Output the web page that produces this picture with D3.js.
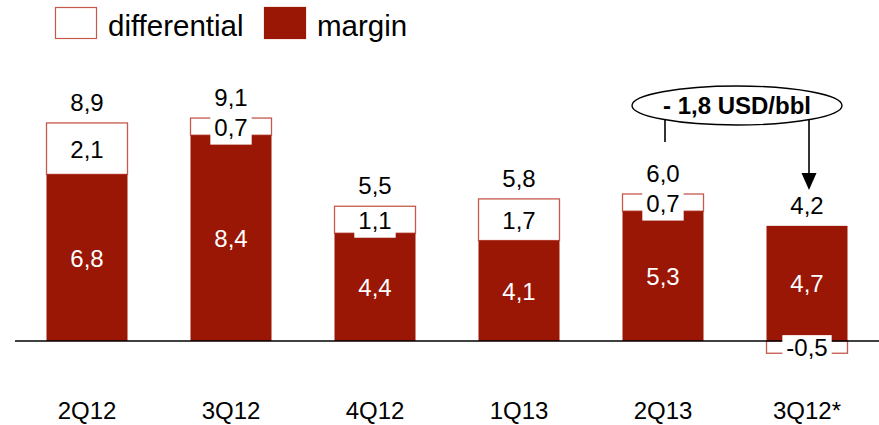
<!DOCTYPE html>
<html>
<head>
<meta charset="utf-8">
<script src="https://cdn.jsdelivr.net/npm/d3@7"></script>
<style>
  body { margin: 0; background: #fff; }
  svg { display: block; font-family: "Liberation Sans", Arial, sans-serif; }
</style>
</head>
<body>
<svg id="chart" width="879" height="425"></svg>
<script>
// values
var categories   = ["2Q12", "3Q12", "4Q12", "1Q13", "2Q13", "3Q12*"];
var margin       = [6.8, 8.4, 4.4, 4.1, 5.3, 4.7];
var differential = [2.1, 0.7, 1.1, 1.7, 0.7, -0.5];
var totals       = [8.9, 9.1, 5.5, 5.8, 6.0, 4.2];
var seriesNames  = ["differential", "margin"];
var deltaLabel   = "- 1,8 USD/bbl";

var MARGIN_RED = "#9a1605";
var DIFF_EDGE = "#c4594c";

// comma decimals, plain hyphen for negatives
function fmt(v) {
  return d3.format(".1f")(v).replace(".", ",").replace("\u2212", "-");
}

var svg = d3.select("#chart");

var x = d3.scaleBand()
  .domain(categories)
  .range([15, 879])
  .paddingInner(0.4375)
  .paddingOuter(0.21875);

var y = d3.scaleLinear().domain([0, 10]).range([341, 96]);

var rows = categories.map(function (c, i) {
  return { cat: c, margin: margin[i], diff: differential[i], total: totals[i] };
});

///////////////////////////////////////////////////////////////////////////////
// bars
///////////////////////////////////////////////////////////////////////////////

var bars = svg.append("g").attr("class", "bars");

// differential segment: on top of margin if positive, below zero if negative
bars.selectAll("rect.diff")
  .data(rows)
  .enter().append("rect")
  .attr("class", "diff")
  .attr("x", function (d) { return x(d.cat); })
  .attr("width", x.bandwidth())
  .attr("y", function (d) {
    return d.diff >= 0 ? y(d.margin + d.diff) : y(0);
  })
  .attr("height", function (d) { return Math.abs(y(0) - y(Math.abs(d.diff))); })
  .attr("fill", "#fff")
  .attr("stroke", DIFF_EDGE)
  .attr("stroke-width", 1.3);

bars.selectAll("rect.margin")
  .data(rows)
  .enter().append("rect")
  .attr("class", "margin")
  .attr("x", function (d) { return x(d.cat); })
  .attr("width", x.bandwidth())
  .attr("y", function (d) { return y(d.margin); })
  .attr("height", function (d) { return y(0) - y(d.margin); })
  .attr("fill", MARGIN_RED);

// baseline
svg.append("line")
  .attr("x1", 15).attr("x2", 879)
  .attr("y1", y(0)).attr("y2", y(0))
  .attr("stroke", "#000")
  .attr("stroke-width", 1.5);

///////////////////////////////////////////////////////////////////////////////
// labels
///////////////////////////////////////////////////////////////////////////////

var labels = svg.append("g")
  .attr("font-size", 24)
  .attr("text-anchor", "middle");

function cx(d) { return x(d.cat) + x.bandwidth() / 2; }

// margin values, white, centred in the red segment
labels.selectAll("text.m")
  .data(rows)
  .enter().append("text")
  .attr("class", "m")
  .attr("x", cx)
  .attr("y", function (d) { return (y(d.margin) + y(0)) / 2 + 9; })
  .attr("fill", "#fff")
  .text(function (d) { return fmt(d.margin); });

// differential values sit on a white box that cuts into the bar
var diffLab = labels.selectAll("g.d")
  .data(rows)
  .enter().append("g")
  .attr("class", "d")
  .attr("transform", function (d) {
    var top = d.diff >= 0 ? y(d.margin + d.diff) : y(0);
    var bot = d.diff >= 0 ? y(d.margin) : y(d.diff);
    return "translate(" + cx(d) + "," + ((top + bot) / 2) + ")";
  });

diffLab.append("text")
  .attr("y", 9)
  .attr("fill", "#000")
  .text(function (d) { return fmt(d.diff); });

diffLab.each(function () {
  var g = d3.select(this);
  var w = g.select("text").node().getBBox().width + 8;
  g.insert("rect", "text")
    .attr("x", -w / 2).attr("y", -12)
    .attr("width", w).attr("height", 30)
    .attr("fill", "#fff");
});

// totals above each bar
labels.selectAll("text.t")
  .data(rows)
  .enter().append("text")
  .attr("class", "t")
  .attr("x", cx)
  .attr("y", function (d) { return y(Math.max(d.total, d.margin)) - 12; })
  .attr("fill", "#000")
  .text(function (d) { return fmt(d.total); });

// categories
labels.selectAll("text.c")
  .data(rows)
  .enter().append("text")
  .attr("class", "c")
  .attr("x", cx)
  .attr("y", 419)
  .attr("fill", "#000")
  .text(function (d) { return d.cat; });

///////////////////////////////////////////////////////////////////////////////
// delta callout
///////////////////////////////////////////////////////////////////////////////

var from = rows[4], to = rows[5];
var ex1 = cx(from) + 2, ex2 = cx(to) + 2;
var ell = { cx: (ex1 + ex2) / 2, cy: 105.5, rx: 105, ry: 19.5 };
function ellBottom(px) {
  var dx = (px - ell.cx) / ell.rx;
  return ell.cy + ell.ry * Math.sqrt(1 - dx * dx);
}

var note = svg.append("g");

note.append("line")
  .attr("x1", ex1).attr("x2", ex1)
  .attr("y1", ellBottom(ex1)).attr("y2", y(from.total) - 52)
  .attr("stroke", "#000").attr("stroke-width", 1.6);

var tipY = y(to.total) - 48;
note.append("line")
  .attr("x1", ex2).attr("x2", ex2)
  .attr("y1", ellBottom(ex2)).attr("y2", tipY - 14)
  .attr("stroke", "#000").attr("stroke-width", 1.6);

note.append("path")
  .attr("d", "M" + (ex2 - 7.5) + "," + (tipY - 17) +
             "L" + (ex2 + 7.5) + "," + (tipY - 17) +
             "L" + ex2 + "," + tipY + "Z")
  .attr("fill", "#000");

note.append("ellipse")
  .attr("cx", ell.cx).attr("cy", ell.cy)
  .attr("rx", ell.rx).attr("ry", ell.ry)
  .attr("fill", "#fff")
  .attr("stroke", "#000").attr("stroke-width", 1.4);

note.append("text")
  .attr("x", ell.cx).attr("y", ell.cy + 8.5)
  .attr("text-anchor", "middle")
  .attr("font-size", 24)
  .attr("font-weight", "bold")
  .text(deltaLabel);

///////////////////////////////////////////////////////////////////////////////
// legend
///////////////////////////////////////////////////////////////////////////////

var legend = svg.append("g").attr("font-size", 29.5);
var legX = [55, 264];

seriesNames.forEach(function (name, i) {
  legend.append("rect")
    .attr("x", legX[i] + 0.5).attr("y", 7.5)
    .attr("width", 41).attr("height", 31)
    .attr("fill", name === "margin" ? MARGIN_RED : "#fff")
    .attr("stroke", name === "margin" ? MARGIN_RED : DIFF_EDGE)
    .attr("stroke-width", 1.2);
  legend.append("text")
    .attr("x", legX[i] + 53).attr("y", 36)
    .text(name);
});
</script>
</body>
</html>
